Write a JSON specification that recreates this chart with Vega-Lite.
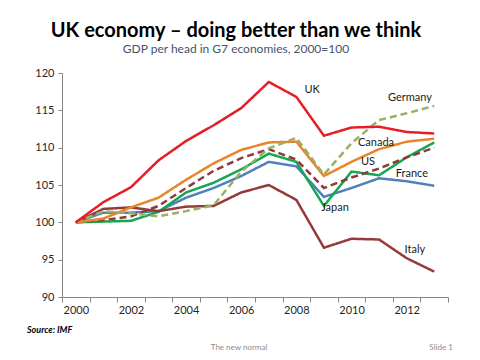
{
  "$schema": "https://vega.github.io/schema/vega-lite/v6.json",
  "autosize": {"type": "none"},
  "width": 386,
  "height": 224,
  "padding": {"left": 62, "top": 73, "right": 32, "bottom": 63},
  "background": "white",
  "config": {
    "view": {"stroke": null},
    "font": "Lato",
    "axis": {"labelFont": "Lato", "labelFontSize": 11, "labelColor": "#262626", "domainColor": "#868686", "tickColor": "#868686", "grid": false, "title": null, "labelOverlap": false, "labelFlush": false, "labelBound": false},
    "axisX": {"tickSize": 5, "labelPadding": 2, "labelOffset": 13.8},
    "axisY": {"tickSize": 4, "labelPadding": 4},
    "text": {"font": "Lato", "fontSize": 11, "fill": "#1a1a1a"}
  },
  "title": {
    "text": "UK economy – doing better than we think",
    "subtitle": "GDP per head in G7 economies, 2000=100",
    "font": "Lato",
    "fontSize": 20,
    "fontWeight": "bold",
    "color": "#000000",
    "subtitleFont": "Lato",
    "subtitleFontSize": 12,
    "subtitleColor": "#44546A",
    "subtitlePadding": 3,
    "anchor": "middle",
    "frame": "group",
    "dx": -19,
    "offset": 12
  },
  "layer": [
    {
      "data": {
        "values": [
          {"country": "France", "year": 2000, "value": 100}, {"country": "France", "year": 2001, "value": 101.3}, {"country": "France", "year": 2002, "value": 101.3}, {"country": "France", "year": 2003, "value": 101.5}, {"country": "France", "year": 2004, "value": 103.3}, {"country": "France", "year": 2005, "value": 104.6}, {"country": "France", "year": 2006, "value": 106.2}, {"country": "France", "year": 2007, "value": 108.1}, {"country": "France", "year": 2008, "value": 107.5}, {"country": "France", "year": 2009, "value": 103.4}, {"country": "France", "year": 2010, "value": 104.6}, {"country": "France", "year": 2011, "value": 105.9}, {"country": "France", "year": 2012, "value": 105.5}, {"country": "France", "year": 2013, "value": 104.9},
          {"country": "Japan", "year": 2000, "value": 100}, {"country": "Japan", "year": 2001, "value": 100.1}, {"country": "Japan", "year": 2002, "value": 100.2}, {"country": "Japan", "year": 2003, "value": 101.4}, {"country": "Japan", "year": 2004, "value": 104.0}, {"country": "Japan", "year": 2005, "value": 105.3}, {"country": "Japan", "year": 2006, "value": 107.1}, {"country": "Japan", "year": 2007, "value": 109.2}, {"country": "Japan", "year": 2008, "value": 108.1}, {"country": "Japan", "year": 2009, "value": 102.2}, {"country": "Japan", "year": 2010, "value": 106.8}, {"country": "Japan", "year": 2011, "value": 106.3}, {"country": "Japan", "year": 2012, "value": 108.7}, {"country": "Japan", "year": 2013, "value": 110.7},
          {"country": "Italy", "year": 2000, "value": 100}, {"country": "Italy", "year": 2001, "value": 101.8}, {"country": "Italy", "year": 2002, "value": 102.0}, {"country": "Italy", "year": 2003, "value": 101.5}, {"country": "Italy", "year": 2004, "value": 102.1}, {"country": "Italy", "year": 2005, "value": 102.2}, {"country": "Italy", "year": 2006, "value": 104.0}, {"country": "Italy", "year": 2007, "value": 105.0}, {"country": "Italy", "year": 2008, "value": 103.0}, {"country": "Italy", "year": 2009, "value": 96.6}, {"country": "Italy", "year": 2010, "value": 97.8}, {"country": "Italy", "year": 2011, "value": 97.7}, {"country": "Italy", "year": 2012, "value": 95.2}, {"country": "Italy", "year": 2013, "value": 93.4},
          {"country": "US", "year": 2000, "value": 100}, {"country": "US", "year": 2001, "value": 100.3}, {"country": "US", "year": 2002, "value": 100.8}, {"country": "US", "year": 2003, "value": 102.2}, {"country": "US", "year": 2004, "value": 104.6}, {"country": "US", "year": 2005, "value": 106.9}, {"country": "US", "year": 2006, "value": 108.6}, {"country": "US", "year": 2007, "value": 109.8}, {"country": "US", "year": 2008, "value": 108.4}, {"country": "US", "year": 2009, "value": 104.6}, {"country": "US", "year": 2010, "value": 106.0}, {"country": "US", "year": 2011, "value": 107.2}, {"country": "US", "year": 2012, "value": 108.7}, {"country": "US", "year": 2013, "value": 110.0},
          {"country": "Canada", "year": 2000, "value": 100}, {"country": "Canada", "year": 2001, "value": 100.5}, {"country": "Canada", "year": 2002, "value": 102.0}, {"country": "Canada", "year": 2003, "value": 103.3}, {"country": "Canada", "year": 2004, "value": 105.7}, {"country": "Canada", "year": 2005, "value": 107.9}, {"country": "Canada", "year": 2006, "value": 109.7}, {"country": "Canada", "year": 2007, "value": 110.7}, {"country": "Canada", "year": 2008, "value": 110.8}, {"country": "Canada", "year": 2009, "value": 106.2}, {"country": "Canada", "year": 2010, "value": 108.1}, {"country": "Canada", "year": 2011, "value": 109.8}, {"country": "Canada", "year": 2012, "value": 110.8}, {"country": "Canada", "year": 2013, "value": 111.2},
          {"country": "Germany", "year": 2000, "value": 100}, {"country": "Germany", "year": 2001, "value": 101.5}, {"country": "Germany", "year": 2002, "value": 101.2}, {"country": "Germany", "year": 2003, "value": 100.8}, {"country": "Germany", "year": 2004, "value": 101.5}, {"country": "Germany", "year": 2005, "value": 102.3}, {"country": "Germany", "year": 2006, "value": 106.8}, {"country": "Germany", "year": 2007, "value": 109.9}, {"country": "Germany", "year": 2008, "value": 111.3}, {"country": "Germany", "year": 2009, "value": 106.4}, {"country": "Germany", "year": 2010, "value": 110.6}, {"country": "Germany", "year": 2011, "value": 113.7}, {"country": "Germany", "year": 2012, "value": 114.6}, {"country": "Germany", "year": 2013, "value": 115.6},
          {"country": "UK", "year": 2000, "value": 100}, {"country": "UK", "year": 2001, "value": 102.7}, {"country": "UK", "year": 2002, "value": 104.7}, {"country": "UK", "year": 2003, "value": 108.3}, {"country": "UK", "year": 2004, "value": 110.9}, {"country": "UK", "year": 2005, "value": 113.0}, {"country": "UK", "year": 2006, "value": 115.3}, {"country": "UK", "year": 2007, "value": 118.8}, {"country": "UK", "year": 2008, "value": 116.8}, {"country": "UK", "year": 2009, "value": 111.6}, {"country": "UK", "year": 2010, "value": 112.7}, {"country": "UK", "year": 2011, "value": 112.8}, {"country": "UK", "year": 2012, "value": 112.1}, {"country": "UK", "year": 2013, "value": 111.9}
        ]
      },
      "mark": {"type": "line", "strokeWidth": 2.5, "clip": false},
      "encoding": {
        "x": {"field": "year", "type": "quantitative", "scale": {"domain": [1999.5, 2013.5], "nice": false, "zero": false}, "axis": {"values": [1999.5, 2000.5, 2001.5, 2002.5, 2003.5, 2004.5, 2005.5, 2006.5, 2007.5, 2008.5, 2009.5, 2010.5, 2011.5, 2012.5, 2013.5], "labelExpr": "((datum.value + 0.5) % 2 == 0 && datum.value < 2013) ? format(datum.value + 0.5, 'd') : ''"}},
        "y": {"field": "value", "type": "quantitative", "scale": {"domain": [90, 120], "nice": false, "zero": false}, "axis": {"values": [90, 95, 100, 105, 110, 115, 120], "labelOverlap": false, "tickCount": 7}},
        "color": {
          "field": "country", "type": "nominal", "legend": null,
          "scale": {"domain": ["France", "Japan", "Italy", "US", "Canada", "Germany", "UK"], "range": ["#4F81BD", "#16A752", "#953A3A", "#8E3B3B", "#E8852A", "#9DAF66", "#E31E24"]}
        },
        "strokeDash": {
          "field": "country", "type": "nominal", "legend": null,
          "scale": {"domain": ["France", "Japan", "Italy", "US", "Canada", "Germany", "UK"], "range": [[1, 0], [1, 0], [1, 0], [7, 4], [1, 0], [7, 4], [1, 0]]}
        }
      }
    },
    {"data": {"values": [{}]}, "mark": {"type": "text"}, "encoding": {"x": {"datum": 2008.57, "type": "quantitative", "axis": {"values": [1999.5, 2000.5, 2001.5, 2002.5, 2003.5, 2004.5, 2005.5, 2006.5, 2007.5, 2008.5, 2009.5, 2010.5, 2011.5, 2012.5, 2013.5], "labelExpr": "((datum.value + 0.5) % 2 == 0 && datum.value < 2013) ? format(datum.value + 0.5, 'd') : ''"}}, "y": {"datum": 117.7, "type": "quantitative", "axis": {"values": [90, 95, 100, 105, 110, 115, 120], "labelOverlap": false, "tickCount": 7}}, "text": {"value": "UK"}}},
    {"data": {"values": [{}]}, "mark": {"type": "text"}, "encoding": {"x": {"datum": 2012.12, "type": "quantitative", "axis": {"values": [1999.5, 2000.5, 2001.5, 2002.5, 2003.5, 2004.5, 2005.5, 2006.5, 2007.5, 2008.5, 2009.5, 2010.5, 2011.5, 2012.5, 2013.5], "labelExpr": "((datum.value + 0.5) % 2 == 0 && datum.value < 2013) ? format(datum.value + 0.5, 'd') : ''"}}, "y": {"datum": 116.65, "type": "quantitative", "axis": {"values": [90, 95, 100, 105, 110, 115, 120], "labelOverlap": false, "tickCount": 7}}, "text": {"value": "Germany"}}},
    {"data": {"values": [{}]}, "mark": {"type": "text"}, "encoding": {"x": {"datum": 2010.89, "type": "quantitative", "axis": {"values": [1999.5, 2000.5, 2001.5, 2002.5, 2003.5, 2004.5, 2005.5, 2006.5, 2007.5, 2008.5, 2009.5, 2010.5, 2011.5, 2012.5, 2013.5], "labelExpr": "((datum.value + 0.5) % 2 == 0 && datum.value < 2013) ? format(datum.value + 0.5, 'd') : ''"}}, "y": {"datum": 110.6, "type": "quantitative", "axis": {"values": [90, 95, 100, 105, 110, 115, 120], "labelOverlap": false, "tickCount": 7}}, "text": {"value": "Canada"}}},
    {"data": {"values": [{}]}, "mark": {"type": "text"}, "encoding": {"x": {"datum": 2010.6, "type": "quantitative", "axis": {"values": [1999.5, 2000.5, 2001.5, 2002.5, 2003.5, 2004.5, 2005.5, 2006.5, 2007.5, 2008.5, 2009.5, 2010.5, 2011.5, 2012.5, 2013.5], "labelExpr": "((datum.value + 0.5) % 2 == 0 && datum.value < 2013) ? format(datum.value + 0.5, 'd') : ''"}}, "y": {"datum": 108.1, "type": "quantitative", "axis": {"values": [90, 95, 100, 105, 110, 115, 120], "labelOverlap": false, "tickCount": 7}}, "text": {"value": "US"}}},
    {"data": {"values": [{}]}, "mark": {"type": "text"}, "encoding": {"x": {"datum": 2012.19, "type": "quantitative", "axis": {"values": [1999.5, 2000.5, 2001.5, 2002.5, 2003.5, 2004.5, 2005.5, 2006.5, 2007.5, 2008.5, 2009.5, 2010.5, 2011.5, 2012.5, 2013.5], "labelExpr": "((datum.value + 0.5) % 2 == 0 && datum.value < 2013) ? format(datum.value + 0.5, 'd') : ''"}}, "y": {"datum": 106.5, "type": "quantitative", "axis": {"values": [90, 95, 100, 105, 110, 115, 120], "labelOverlap": false, "tickCount": 7}}, "text": {"value": "France"}}},
    {"data": {"values": [{}]}, "mark": {"type": "text"}, "encoding": {"x": {"datum": 2009.4, "type": "quantitative", "axis": {"values": [1999.5, 2000.5, 2001.5, 2002.5, 2003.5, 2004.5, 2005.5, 2006.5, 2007.5, 2008.5, 2009.5, 2010.5, 2011.5, 2012.5, 2013.5], "labelExpr": "((datum.value + 0.5) % 2 == 0 && datum.value < 2013) ? format(datum.value + 0.5, 'd') : ''"}}, "y": {"datum": 101.9, "type": "quantitative", "axis": {"values": [90, 95, 100, 105, 110, 115, 120], "labelOverlap": false, "tickCount": 7}}, "text": {"value": "Japan"}}},
    {"data": {"values": [{}]}, "mark": {"type": "text"}, "encoding": {"x": {"datum": 2012.3, "type": "quantitative", "axis": {"values": [1999.5, 2000.5, 2001.5, 2002.5, 2003.5, 2004.5, 2005.5, 2006.5, 2007.5, 2008.5, 2009.5, 2010.5, 2011.5, 2012.5, 2013.5], "labelExpr": "((datum.value + 0.5) % 2 == 0 && datum.value < 2013) ? format(datum.value + 0.5, 'd') : ''"}}, "y": {"datum": 96.3, "type": "quantitative", "axis": {"values": [90, 95, 100, 105, 110, 115, 120], "labelOverlap": false, "tickCount": 7}}, "text": {"value": "Italy"}}},
    {"data": {"values": [{}]}, "mark": {"type": "text", "fontSize": 9, "fontWeight": "bold", "fontStyle": "italic", "align": "left", "fill": "#000000"}, "encoding": {"x": {"datum": 1998.23, "type": "quantitative", "axis": {"values": [1999.5, 2000.5, 2001.5, 2002.5, 2003.5, 2004.5, 2005.5, 2006.5, 2007.5, 2008.5, 2009.5, 2010.5, 2011.5, 2012.5, 2013.5], "labelExpr": "((datum.value + 0.5) % 2 == 0 && datum.value < 2013) ? format(datum.value + 0.5, 'd') : ''"}}, "y": {"datum": 85.58, "type": "quantitative", "axis": {"values": [90, 95, 100, 105, 110, 115, 120], "labelOverlap": false, "tickCount": 7}}, "text": {"value": "Source: IMF"}}},
    {"data": {"values": [{}]}, "mark": {"type": "text", "fontSize": 8, "fill": "#8c8c8c"}, "encoding": {"x": {"datum": 2005.92, "type": "quantitative", "axis": {"values": [1999.5, 2000.5, 2001.5, 2002.5, 2003.5, 2004.5, 2005.5, 2006.5, 2007.5, 2008.5, 2009.5, 2010.5, 2011.5, 2012.5, 2013.5], "labelExpr": "((datum.value + 0.5) % 2 == 0 && datum.value < 2013) ? format(datum.value + 0.5, 'd') : ''"}}, "y": {"datum": 83.17, "type": "quantitative", "axis": {"values": [90, 95, 100, 105, 110, 115, 120], "labelOverlap": false, "tickCount": 7}}, "text": {"value": "The new normal"}}},
    {"data": {"values": [{}]}, "mark": {"type": "text", "fontSize": 8, "fill": "#8c8c8c"}, "encoding": {"x": {"datum": 2013.25, "type": "quantitative", "axis": {"values": [1999.5, 2000.5, 2001.5, 2002.5, 2003.5, 2004.5, 2005.5, 2006.5, 2007.5, 2008.5, 2009.5, 2010.5, 2011.5, 2012.5, 2013.5], "labelExpr": "((datum.value + 0.5) % 2 == 0 && datum.value < 2013) ? format(datum.value + 0.5, 'd') : ''"}}, "y": {"datum": 83.17, "type": "quantitative", "axis": {"values": [90, 95, 100, 105, 110, 115, 120], "labelOverlap": false, "tickCount": 7}}, "text": {"value": "Slide 1"}}}
  ]
}
